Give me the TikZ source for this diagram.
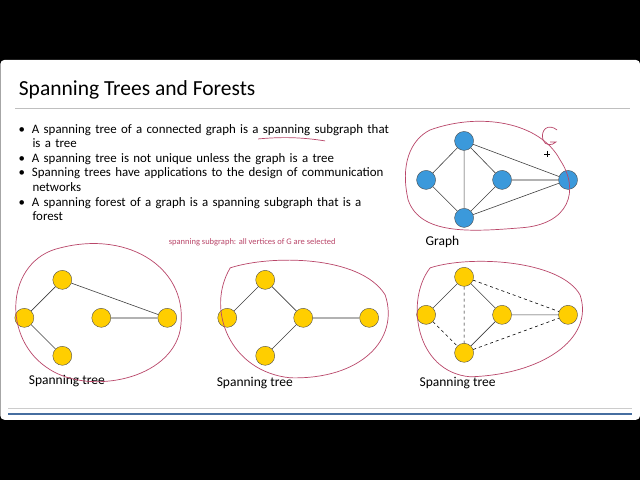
\documentclass[tikz,border=0pt]{standalone}
\usepackage{fontspec}
\setmainfont{Carlito}
\definecolor{inkc}{RGB}{185,70,105}
\definecolor{steel}{RGB}{70,110,160}
\begin{document}
\begin{tikzpicture}[x=1pt,y=-1pt,
 bn/.style={circle,draw=black!70,fill=cyan!70!blue!80,minimum size=19pt,inner sep=0pt},
 yn/.style={circle,draw=black!70,fill=orange!30!yellow!95!red,minimum size=19pt,inner sep=0pt},
 ed/.style={draw=black!75,line width=0.6pt},
 ge/.style={draw=gray!60,line width=2pt},
 de/.style={draw=black,dashed,line width=0.6pt},
 ink/.style={draw=inkc,line width=0.7pt},
 lbl/.style={font=\fontsize{13.5}{14}\selectfont,anchor=west}]
\fill[black] (0,0) rectangle (640,480);
\fill[white,rounded corners=4pt] (0,60) rectangle (640,420);
\node[anchor=west,font=\fontsize{21.5}{23}\selectfont] (title) at (15,90) {Spanning Trees and Forests};
\draw[gray!50,line width=0.6pt] (15,108) -- (630,108);
\draw[gray!40,line width=0.6pt] (8,409) -- (632,409);
\draw[steel,line width=2.5pt] (8,414) -- (632,414);
\node[anchor=north west,align=left,text width=380pt,font=\fontsize{12.9}{14.6}\selectfont,inner sep=0pt] (bul) at (18,124) {%
\textbullet\hspace{7pt}A spanning tree of a connected graph is a spanning subgraph that\\\hspace{14pt}is a tree\\
\textbullet\hspace{7pt}A spanning tree is not unique unless the graph is a tree\\
\textbullet\hspace{7pt}Spanning trees have applications to the design of communication\\\hspace{14pt}networks\\
\textbullet\hspace{7pt}A spanning forest of a graph is a spanning subgraph that is a\\\hspace{14pt}forest};
% graph
\node[bn] (gt) at (464,141) {}; \node[bn] (gl) at (426,180) {}; \node[bn] (gm) at (502,180) {};
\node[bn] (gr) at (568,180) {}; \node[bn] (gb) at (464,218) {};
\draw[ed] (gt)--(gl) (gt)--(gm) (gt)--(gb) (gt)--(gr) (gl)--(gb) (gm)--(gb) (gb)--(gr);
\draw[ge] (gm)--(gr);
\node[lbl] (gtext) at (422,242) {Graph};
% tree 1
\node[yn] (at) at (62,280) {}; \node[yn] (al) at (24,318) {}; \node[yn] (am) at (101,318) {};
\node[yn] (ar) at (167,318) {}; \node[yn] (ab) at (62,356) {};
\draw[ed] (at)--(al) (al)--(ab) (at)--(ar);
\draw[ge] (am)--(ar);
\node[lbl] (t1) at (25,381) {Spanning tree};
% tree 2
\node[yn] (bt) at (265,280) {}; \node[yn] (bl) at (227,318) {}; \node[yn] (bm) at (303,318) {};
\node[yn] (br) at (369,318) {}; \node[yn] (bb) at (265,356) {};
\draw[ed] (bt)--(bl) (bt)--(bm) (bm)--(bb);
\draw[ge] (bm)--(br);
\node[lbl] (t2) at (213,383) {Spanning tree};
% tree 3
\node[yn] (ct) at (464,277) {}; \node[yn] (cl) at (426,315) {}; \node[yn] (cm) at (502,315) {};
\node[yn] (cr) at (568,315) {}; \node[yn] (cb) at (464,353) {};
\draw[ed] (ct)--(cl) (ct)--(cm) (cm)--(cb) (cm)--(cr);
\draw[de] (ct)--(cb) (ct)--(cr) (cl)--(cb) (cb)--(cr);
\node[lbl] (t3) at (416,383) {Spanning tree};
\node[text=inkc,font=\fontsize{8.5}{9}\selectfont] (note) at (252,242) {spanning subgraph: all vertices of G are selected};
% ink annotations
\draw[ink] (60,248) .. controls (130,230) and (190,270) .. (180,330) .. controls (170,380) and (90,395) .. (50,370) .. controls (0,340) and (5,260) .. (60,248);
\draw[ink] (230,268) .. controls (270,255) and (360,255) .. (385,295) .. controls (400,340) and (360,380) .. (290,378) .. controls (230,372) and (205,310) .. (230,268);
\draw[ink] (430,268) .. controls (470,255) and (560,260) .. (580,295) .. controls (595,340) and (540,375) .. (470,377) .. controls (415,372) and (405,300) .. (430,268);
\draw[ink] (430,130) .. controls (480,112) and (540,122) .. (560,160) .. controls (580,190) and (570,225) .. (520,228) .. controls (470,232) and (420,235) .. (408,200) .. controls (400,165) and (410,140) .. (430,130);
\draw[ink] (557,130) .. controls (548,123) and (540,130) .. (543,140) .. controls (545,146) and (552,146) .. (556,142) -- (550,142);
\draw[ink] (258,139) .. controls (280,137) and (300,137) .. (325,141);
\draw[black] (544,154)--(550,154) (547,151)--(547,157);
\end{tikzpicture}
\end{document}
